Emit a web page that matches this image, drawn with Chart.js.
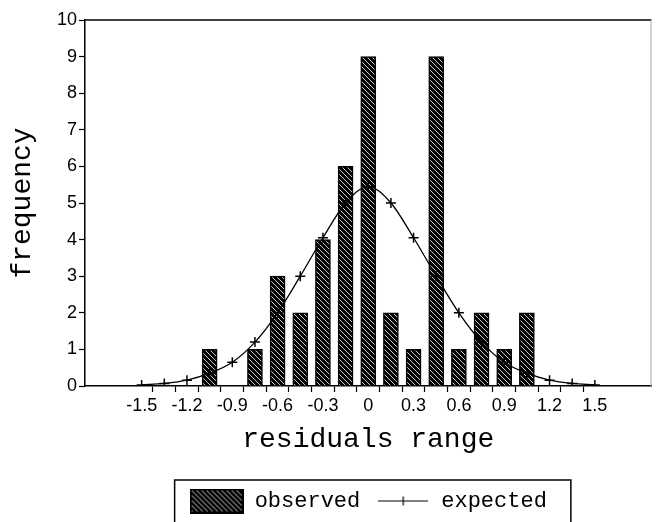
<!DOCTYPE html>
<html>
<head>
<style>
  body { margin: 0; background: #fff; }
</style>
</head>
<body>

<canvas id="myChart" width="658" height="522"></canvas>

<script src="https://cdn.jsdelivr.net/npm/chart.js"></script>

<script>
  // observed counts per bin (bin centre -> count); the -0.9 bin is empty
  const binCentres = [-1.05, -0.75, -0.6, -0.45, -0.3, -0.15, 0, 0.15, 0.3, 0.45, 0.6, 0.75, 0.9, 1.05];
  const observed   = [1, 1, 3, 2, 4, 6, 9, 2, 1, 9, 1, 2, 1, 2];

  // expected frequency curve
  const expectedX = [-1.5, -1.35, -1.2, -1.05, -0.9, -0.75, -0.6, -0.45, -0.3, -0.15, 0,
                     0.15, 0.3, 0.45, 0.6, 0.75, 0.9, 1.05, 1.2, 1.35, 1.5];
  const expected  = [0.03, 0.07, 0.16, 0.35, 0.65, 1.2, 2.0, 3.0, 4.05, 5.0, 5.45,
                     5.0, 4.05, 3.0, 2.0, 1.2, 0.65, 0.35, 0.16, 0.07, 0.03];

  const xTickValues = [-1.5, -1.2, -0.9, -0.6, -0.3, 0, 0.3, 0.6, 0.9, 1.2, 1.5];
  const xTickLabels = ['-1.5', '-1.2', '-0.9', '-0.6', '-0.3', '0', '0.3', '0.6', '0.9', '1.2', '1.5'];
</script>

<script>
  function makeHatch() {
    const c = document.createElement('canvas');
    c.width = 5; c.height = 5;
    const g = c.getContext('2d');
    g.fillStyle = '#000';
    g.fillRect(0, 0, 5, 5);
    g.strokeStyle = '#fff';
    g.lineWidth = 0.8;
    for (let k = -1; k <= 1; k++) {
      g.beginPath();
      g.moveTo(k * 5, 0);
      g.lineTo(k * 5 + 5, 5);
      g.stroke();
    }
    return g.createPattern(c, 'repeat');
  }
  const hatch = makeHatch();

  // legend swatches
  const obsSwatch = document.createElement('canvas');
  obsSwatch.width = 54; obsSwatch.height = 25;
  (function () {
    const g = obsSwatch.getContext('2d');
    g.fillStyle = hatch;
    g.fillRect(0, 0, 54, 25);
    g.strokeStyle = '#000';
    g.lineWidth = 2;
    g.strokeRect(1, 1, 52, 23);
  })();

  const expSwatch = document.createElement('canvas');
  expSwatch.width = 50; expSwatch.height = 25;
  (function () {
    const g = expSwatch.getContext('2d');
    g.strokeStyle = '#000';
    g.lineWidth = 1.2;
    g.beginPath();
    g.moveTo(0, 12.5); g.lineTo(50, 12.5);
    g.moveTo(25, 8); g.lineTo(25, 17);
    g.stroke();
  })();

  const framePlugin = {
    id: 'frame',
    afterDraw(chart) {
      const ctx = chart.ctx;
      const a = chart.chartArea;
      ctx.save();
      ctx.strokeStyle = '#000';
      ctx.lineWidth = 1.5;
      ctx.beginPath();
      ctx.moveTo(a.left, a.top);
      ctx.lineTo(a.right, a.top);
      ctx.stroke();
      ctx.strokeStyle = '#aaa';
      ctx.lineWidth = 1;
      ctx.beginPath();
      ctx.moveTo(a.right - 0.5, a.top);
      ctx.lineTo(a.right - 0.5, a.bottom);
      ctx.stroke();

      // box around the legend
      const hb = chart.legend.legendHitBoxes;
      if (hb && hb.length) {
        const first = hb[0], last = hb[hb.length - 1];
        const x0 = first.left - 15;
        const x1 = last.left + last.width + 24;
        const y0 = first.top - 10;
        ctx.strokeStyle = '#000';
        ctx.lineWidth = 1.5;
        ctx.strokeRect(x0, y0, x1 - x0, 100);
      }
      ctx.restore();
    }
  };

  Chart.defaults.color = '#000';

  const xTicks = [];
  for (let k = 0; k <= 50; k++) xTicks.push(-1.875 + 0.075 * k);

  const config = {
    type: 'bar',
    data: {
      datasets: [{
        type: 'bar',
        label: 'observed',
        data: binCentres.map((x, i) => ({x: x, y: observed[i]})),
        backgroundColor: hatch,
        borderColor: '#000',
        borderWidth: 1.5,
        barThickness: 15,
        order: 1
      }, {
        type: 'line',
        label: 'expected',
        data: expectedX.map((x, i) => ({x: x, y: expected[i]})),
        borderColor: '#000',
        borderWidth: 1.3,
        pointStyle: 'cross',
        pointRadius: 5,
        pointBorderWidth: 1.5,
        pointBorderColor: '#000',
        cubicInterpolationMode: 'monotone',
        fill: false,
        order: 0
      }]
    },
    options: {
      responsive: false,
      animation: false,
      layout: { padding: { top: 20, right: 1, left: 0, bottom: 0 } },
      plugins: {
        tooltip: { enabled: false },
        legend: {
          position: 'bottom',
          fullSize: false,
          labels: {
            usePointStyle: true,
            pointStyleWidth: 54,
            boxHeight: 25,
            padding: 16,
            font: { family: 'Liberation Mono', size: 22 },
            generateLabels: () => [
              { text: 'observed', pointStyle: obsSwatch, lineWidth: 0, datasetIndex: 0 },
              { text: 'expected', pointStyle: expSwatch, lineWidth: 0, datasetIndex: 1 }
            ]
          }
        }
      },
      scales: {
        x: {
          type: 'linear',
          min: -1.875,
          max: 1.875,
          offset: false,
          afterBuildTicks: (scale) => { scale.ticks = xTicks.map(v => ({value: v})); },
          afterFit: (scale) => { scale.height = 88; },
          ticks: {
            autoSkip: false,
            maxRotation: 0,
            padding: 3,
            font: { family: 'Liberation Sans', size: 18 },
            callback: (value) => {
              const i = xTickValues.findIndex(v => Math.abs(v - value) < 1e-6);
              return i >= 0 ? xTickLabels[i] : '';
            }
          },
          grid: {
            offset: false,
            drawOnChartArea: false,
            drawTicks: true,
            tickLength: 6,
            tickWidth: 1.2,
            tickColor: (c) => {
              const k = c.index;
              const v = xTicks[k];
              return (k % 2 === 0 && Math.abs(v) < 1.45) ? '#000' : 'rgba(0,0,0,0)';
            }
          },
          border: { color: '#000', width: 1.5 },
          title: {
            display: true,
            text: 'residuals range',
            font: { family: 'Liberation Mono', size: 28 },
            padding: { top: 0, bottom: 18 }
          }
        },
        y: {
          min: 0,
          max: 10,
          afterFit: (scale) => { scale.width = 85; },
          ticks: {
            stepSize: 1,
            padding: 2,
            font: { family: 'Liberation Sans', size: 18 }
          },
          grid: {
            drawOnChartArea: false,
            drawTicks: true,
            tickLength: 6,
            tickWidth: 1.2,
            tickColor: '#000'
          },
          border: { color: '#000', width: 1.5 },
          title: {
            display: true,
            text: 'frequency',
            font: { family: 'Liberation Mono', size: 28 },
            padding: { top: 6, bottom: 0 }
          }
        }
      }
    },
    plugins: [framePlugin]
  };

  const myChart = new Chart(document.getElementById('myChart'), config);
</script>

</body>
</html>
